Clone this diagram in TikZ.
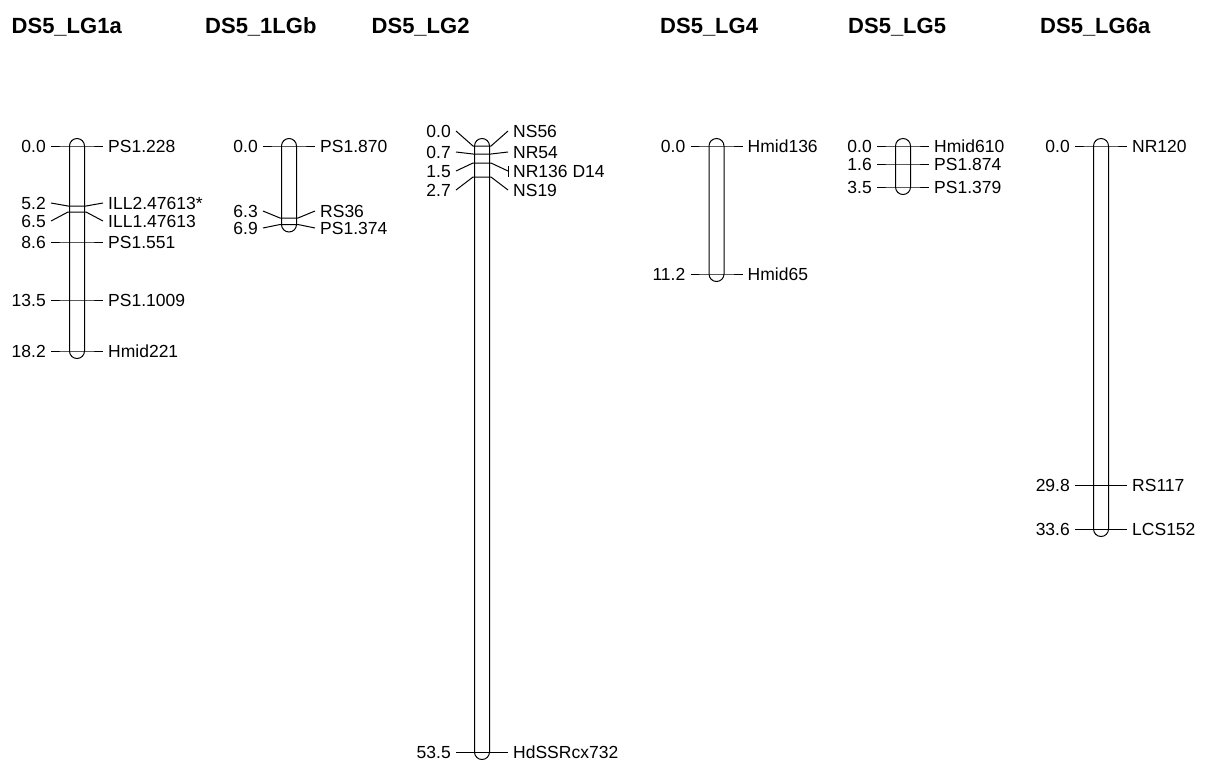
\documentclass[tikz,border=0pt]{standalone}
\usepackage{fontspec}
\setmainfont{Liberation Sans}
\tikzset{
  bar/.style={draw=black,line width=1pt,rounded corners=7.5pt},
  leader/.style={draw=black,line width=1pt},
  lab/.style={inner sep=0pt,font=\fontsize{17.5}{20}\selectfont,text=black},
  ttl/.style={inner sep=0pt,font=\fontsize{22}{26}\selectfont\bfseries,anchor=base west,text=black}
}
% #1 name, #2 cx, #3 bar y, #4 left label y, #5 right label y, #6 left text, #7 right text
\newcommand\gmk[7]{%
  \coordinate (#1a) at ({#2-26},#4);
  \coordinate (#1b) at ({#2-9},#3);
  \coordinate (#1c) at ({#2+9},#3);
  \coordinate (#1d) at ({#2+26},#5);
  \draw[leader] (#1a) -- (#1b) -- (#1c) -- (#1d);
  \node[lab,anchor=base east] (#1L) at ({#2-31},{#4+6}) {#6};
  \node[lab,anchor=base west] (#1R) at ({#2+31},{#5+6}) {#7};
}
% #1 cx, #2 bottom marker y
\newcommand\gbar[2]{%
  \draw[bar] ({#1-7.5},138.5) rectangle ({#1+7.5},{#2+7.5});
}
\begin{document}
\begin{tikzpicture}[x=1pt,y=-1pt]
\useasboundingbox (0,0) rectangle (1206,764);
% titles
\node[ttl] (t1) at (11.5,33) {DS5\_LG1a};
\node[ttl] (t2) at (205,33) {DS5\_1LGb};
\node[ttl] (t3) at (371.5,33) {DS5\_LG2};
\node[ttl] (t4) at (660,33) {DS5\_LG4};
\node[ttl] (t5) at (848,33) {DS5\_LG5};
\node[ttl] (t6) at (1040,33) {DS5\_LG6a};
% LG1a
\gbar{77}{351}
\gmk{a1}{77}{146}{146}{146}{0.0}{PS1.228}
\gmk{a2}{77}{206}{203}{203}{5.2}{ILL2.47613*}
\gmk{a3}{77}{212}{221}{221}{6.5}{ILL1.47613}
\gmk{a4}{77}{242}{242}{242}{8.6}{PS1.551}
\gmk{a5}{77}{300}{300}{300}{13.5}{PS1.1009}
\gmk{a6}{77}{351}{351}{351}{18.2}{Hmid221}
% LG1b
\gbar{289}{224.5}
\gmk{b1}{289}{146}{146}{146}{0.0}{PS1.870}
\gmk{b2}{289}{218}{211}{211}{6.3}{RS36}
\gmk{b3}{289}{224.5}{228}{228}{6.9}{PS1.374}
% LG2
\gbar{482}{752}
\gmk{c1}{482}{146}{131}{131}{0.0}{NS56}
\gmk{c2}{482}{154}{152}{152}{0.7}{NR54}
\gmk{c3}{482}{163}{171}{171}{1.5}{NR136 D14}
\gmk{c4}{482}{177}{190}{190}{2.7}{NS19}
\gmk{c5}{482}{752}{752}{752}{53.5}{HdSSRcx732}
\coordinate (c3t1) at (508,165.5);
\coordinate (c3t2) at (508,176.5);
\draw[leader] (c3t1) -- (c3t2);
% LG4
\gbar{716.5}{274}
\gmk{d1}{716.5}{146}{146}{146}{0.0}{Hmid136}
\gmk{d2}{716.5}{274}{274}{274}{11.2}{Hmid65}
% LG5
\gbar{903}{187}
\gmk{e1}{903}{146}{146}{146}{0.0}{Hmid610}
\gmk{e2}{903}{164}{164}{164}{1.6}{PS1.874}
\gmk{e3}{903}{187}{187}{187}{3.5}{PS1.379}
% LG6a
\gbar{1101}{529}
\gmk{f1}{1101}{146}{146}{146}{0.0}{NR120}
\gmk{f2}{1101}{485}{485}{485}{29.8}{RS117}
\gmk{f3}{1101}{529}{529}{529}{33.6}{LCS152}
\end{tikzpicture}
\end{document}
